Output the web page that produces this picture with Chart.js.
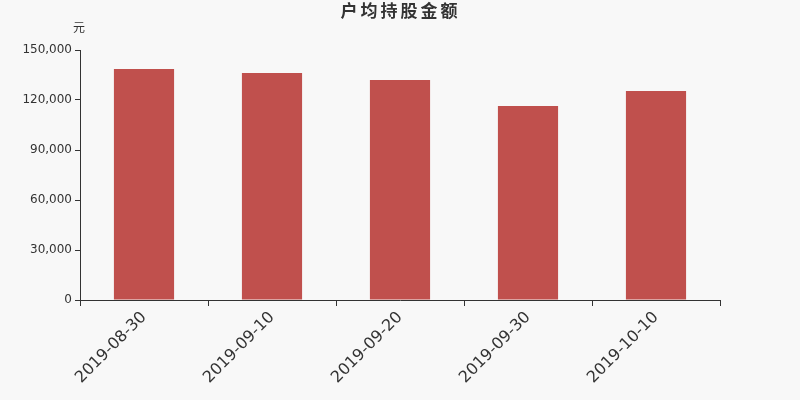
<!DOCTYPE html>
<html>
<head>
<meta charset="utf-8">
<script src="https://cdn.jsdelivr.net/npm/chart.js@4"></script>
<style>
  html, body { margin: 0; padding: 0; background: #f8f8f8; }
  #wrap { width: 800px; height: 400px; }
</style>
</head>
<body>
<div id="wrap"><canvas id="chart" width="800" height="400"></canvas></div>
<script>
// --- Data ---
const categories = ['2019-08-30', '2019-09-10', '2019-09-20', '2019-09-30', '2019-10-10'];
const amounts = [138600, 136200, 132000, 116400, 125400];
const yTicks = [0, 30000, 60000, 90000, 120000, 150000];

const titleText = '户均持股金额';
const unitText = '元';
const FONT = '"DejaVu Sans", "Noto Sans CJK SC", sans-serif';

// title + unit label drawn by hand so they sit where the original has them
const headerPlugin = {
    id: 'header',
    afterDraw(chart) {
        const ctx = chart.ctx;
        ctx.save();
        ctx.fillStyle = '#333';
        ctx.textAlign = 'center';
        ctx.textBaseline = 'middle';
        // title is spaced out a bit, so draw it glyph by glyph
        ctx.font = 'bold 17px ' + FONT;
        const chars = Array.from(titleText);
        const pitch = 20;
        const start = 399 - pitch * (chars.length - 1) / 2;
        chars.forEach((c, i) => ctx.fillText(c, start + i * pitch, 13));
        ctx.font = '12px ' + FONT;
        ctx.fillText(unitText, 79, 29);
        ctx.restore();
    }
};

const bgPlugin = {
    id: 'bg',
    beforeDraw(chart) {
        const ctx = chart.ctx;
        ctx.save();
        ctx.fillStyle = '#f8f8f8';
        ctx.fillRect(0, 0, chart.width, chart.height);
        ctx.restore();
    }
};

new Chart(document.getElementById('chart'), {
    type: 'bar',
    data: {
        labels: categories,
        datasets: [{
            data: amounts,
            backgroundColor: '#c0504d',
            categoryPercentage: 1,
            barPercentage: 0.47
        }]
    },
    options: {
        responsive: false,
        animation: false,
        layout: { padding: { top: 50, right: 80, left: 0, bottom: 0 } },
        plugins: { legend: { display: false }, tooltip: { enabled: false } },
        scales: {
            x: {
                offset: true,
                grid: { offset: true, drawOnChartArea: false, color: '#333', tickLength: 6 },
                border: { color: '#333' },
                ticks: {
                    color: '#333',
                    font: { family: FONT, size: 16 },
                    minRotation: 45,
                    maxRotation: 45,
                    padding: 2
                },
                afterFit(scale) { scale.height = 100; }
            },
            y: {
                min: 0,
                max: 150000,
                afterBuildTicks(scale) { scale.ticks = yTicks.map(v => ({ value: v })); },
                grid: { drawOnChartArea: false, color: '#333', tickLength: 5 },
                border: { color: '#333' },
                ticks: {
                    color: '#333',
                    font: { family: FONT, size: 12 },
                    padding: 3,
                    callback: v => v.toLocaleString('en-US')
                },
                afterFit(scale) { scale.width = 80; }
            }
        }
    },
    plugins: [bgPlugin, headerPlugin]
});
</script>
</body>
</html>
